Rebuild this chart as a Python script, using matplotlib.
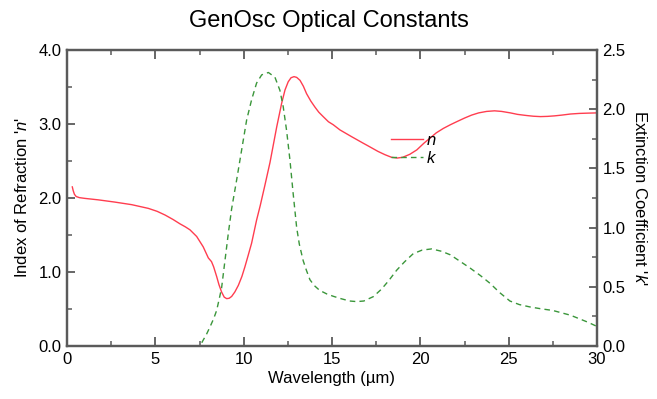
import matplotlib
matplotlib.use("Agg")
import matplotlib.pyplot as plt
from matplotlib.ticker import MultipleLocator, FormatStrFormatter

plt.rcParams['font.family'] = ['Liberation Sans', 'DejaVu Sans']
plt.rcParams['mathtext.fontset'] = 'custom'
plt.rcParams['mathtext.it'] = 'Liberation Sans:italic'
plt.rcParams['mathtext.rm'] = 'Liberation Sans'

# Refractive index n
n_wl = [0.3, 0.35, 0.42, 0.52, 0.7, 1.0, 1.77, 2.7, 3.66, 4.6, 5.1, 5.55, 6.0, 6.4, 6.7,
        6.96, 7.34, 7.71, 8.0, 8.18, 8.3, 8.47, 8.6, 8.75, 8.9, 9.04, 9.18, 9.32, 9.5,
        9.7, 9.9, 10.07, 10.25, 10.45, 10.73, 10.94, 11.2, 11.49, 11.87, 12.15, 12.34,
        12.52, 12.68, 12.85, 13.0, 13.19, 13.38, 13.56, 13.8, 14.03, 14.25, 14.5, 14.8,
        15.07, 15.45, 16.1, 16.77, 17.0, 17.6, 18.0, 18.37, 18.7, 19.0, 19.4, 19.8, 20.2,
        20.5, 20.9, 21.3, 21.7, 22.05, 22.5, 22.9, 23.3, 23.75, 24.2, 24.6, 25.1, 25.5,
        26.0, 26.4, 26.8, 27.2, 27.6, 28.0, 28.5, 29.0, 29.5, 30.0]
n_val = [2.15, 2.10, 2.05, 2.02, 2.005, 1.995, 1.975, 1.945, 1.91, 1.86, 1.82, 1.77, 1.71, 1.65, 1.61,
         1.57, 1.48, 1.34, 1.19, 1.14, 1.07, 0.94, 0.83, 0.73, 0.66, 0.64, 0.645, 0.67, 0.73,
         0.82, 0.94, 1.07, 1.22, 1.39, 1.70, 1.90, 2.17, 2.48, 2.96, 3.28, 3.46,
         3.57, 3.625, 3.64, 3.63, 3.59, 3.51, 3.41, 3.31, 3.23, 3.16, 3.10, 3.03,
         2.99, 2.92, 2.83, 2.74, 2.71, 2.63, 2.585, 2.55, 2.54, 2.55, 2.59, 2.65, 2.74,
         2.80, 2.88, 2.94, 2.99, 3.03, 3.08, 3.12, 3.15, 3.17, 3.178, 3.17, 3.15, 3.13,
         3.115, 3.105, 3.10, 3.103, 3.11, 3.12, 3.135, 3.143, 3.147, 3.15]

# Extinction coefficient k
k_wl = [0.0, 7.3, 7.43, 7.6, 7.71, 7.9, 8.09, 8.3, 8.47, 8.62, 8.75, 8.94, 9.13, 9.32,
        9.6, 9.89, 10.17, 10.45, 10.73, 11.02, 11.4, 11.77, 12.05, 12.24, 12.43, 12.62,
        12.8, 13.0, 13.15, 13.37, 13.55, 13.75, 14.0, 14.3, 14.7, 15.07, 15.5, 16.0, 16.4,
        16.8, 17.34, 17.8, 18.2, 18.66, 19.1, 19.6, 20.1, 20.64, 21.2, 21.7, 22.2, 22.8,
        23.4, 23.94, 24.5, 25.07, 25.6, 26.2, 26.8, 27.5, 28.0, 28.5, 29.0, 29.5, 30.0]
k_val = [0.0, 0.0, 0.0, 0.02, 0.05, 0.10, 0.16, 0.23, 0.30, 0.40, 0.49, 0.72, 0.95, 1.16,
         1.40, 1.66, 1.91, 2.08, 2.22, 2.29, 2.31, 2.27, 2.16, 2.02, 1.82, 1.57,
         1.29, 1.00, 0.86, 0.72, 0.64, 0.56, 0.51, 0.47, 0.44, 0.42, 0.40, 0.38, 0.375,
         0.38, 0.417, 0.48, 0.55, 0.64, 0.71, 0.78, 0.81, 0.82, 0.80, 0.77, 0.72, 0.66,
         0.595, 0.53, 0.45, 0.38, 0.35, 0.33, 0.315, 0.30, 0.28, 0.26, 0.23, 0.20, 0.165]

title = "GenOsc Optical Constants"
xlabel = "Wavelength (µm)"
ylabel_left = "Index of Refraction '$\\it{n}$'"
ylabel_right = "Extinction Coefficient '$\\it{k}$'"

fig = plt.figure(figsize=(6.57, 3.99), dpi=100)
ax = fig.add_axes([67/657, 1-346/399, 530/657, 296/399])
ax2 = ax.twinx()

red = '#ff3d4f'
green = '#3a963a'
ln1, = ax.plot(n_wl, n_val, color=red, lw=1.0, label='$\\it{n}$')
ln2, = ax2.plot(k_wl, k_val, color=green, lw=1.0, ls=(0, (4, 3)), label='$\\it{k}$')

ax.set_xlim(0, 30)
ax.set_ylim(0, 4.0)
ax2.set_ylim(0, 2.5)

ax.xaxis.set_major_locator(MultipleLocator(5))
ax.xaxis.set_minor_locator(MultipleLocator(2.5))
ax.yaxis.set_major_locator(MultipleLocator(1.0))
ax.yaxis.set_minor_locator(MultipleLocator(0.5))
ax.yaxis.set_major_formatter(FormatStrFormatter('%.1f'))
ax2.yaxis.set_major_locator(MultipleLocator(0.5))
ax2.yaxis.set_minor_locator(MultipleLocator(0.25))
ax2.yaxis.set_major_formatter(FormatStrFormatter('%.1f'))

spine_c = '#5a5a5a'
for a in (ax, ax2):
    for s in a.spines.values():
        s.set_color(spine_c)
        s.set_linewidth(1.6)

ax.tick_params(axis='x', which='both', direction='in', top=True, bottom=True,
               color=spine_c, labelsize=12, pad=4)
ax.tick_params(axis='x', which='major', length=6.5, width=1.3)
ax.tick_params(axis='x', which='minor', length=3.5, width=1.1)
ax.tick_params(axis='y', which='both', direction='in', left=True, right=False,
               color=spine_c, labelsize=12, pad=4)
ax.tick_params(axis='y', which='major', length=6, width=1.3)
ax.tick_params(axis='y', which='minor', length=3.5, width=1.1)
ax2.tick_params(axis='y', which='both', direction='in', right=True,
                color=spine_c, labelsize=12, pad=4)
ax2.tick_params(axis='y', which='major', length=6, width=1.3)
ax2.tick_params(axis='y', which='minor', length=3.5, width=1.1)

ax.set_xlabel(xlabel, fontsize=12, labelpad=3)
ax.set_ylabel(ylabel_left, fontsize=12, labelpad=6)
ax2.set_ylabel(ylabel_right, fontsize=12, rotation=270, labelpad=16)
fig.text(0.5, 1-21/399, title, ha='center', va='center', fontsize=17)

leg = ax2.legend([ln1, ln2], ['$\\it{n}$', '$\\it{k}$'], loc='upper left',
                 bbox_to_anchor=((391-67)/530, (346-133)/296), frameon=False,
                 fontsize=12, handlelength=1.9, handletextpad=0.2,
                 labelspacing=0.1, borderpad=0, borderaxespad=0)

fig.savefig('out.png', dpi=100)
